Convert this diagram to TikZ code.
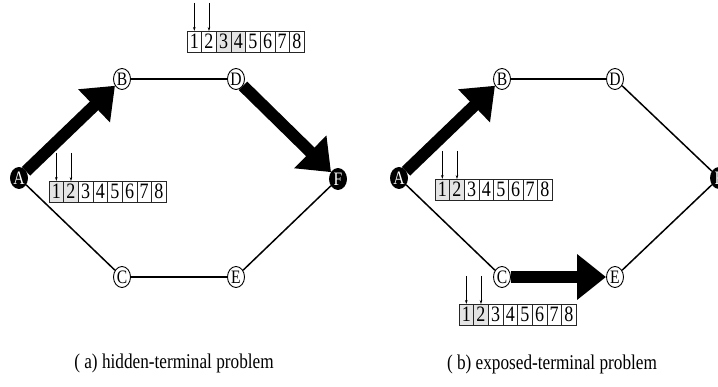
\documentclass[tikz,border=0pt]{standalone}
\usepackage{fontspec}
\setmainfont{Liberation Serif}[FakeStretch=0.82]
\usetikzlibrary{arrows.meta,shapes.geometric}
\definecolor{cellgray}{HTML}{E4E4E4}
\tikzset{
  station/.style={ellipse, draw=black, line width=0.9pt, fill=white, minimum width=17pt, minimum height=21pt, inner sep=0pt, font=\fontsize{19}{19}\selectfont},
  blackstation/.style={station, fill=black, text=white},
  link/.style={line width=1.5pt},
  bigarrow/.style={line width=12pt, -{Triangle[length=29pt,width=44pt]}},
  cellbox/.style={draw=black!85, line width=0.8pt, minimum width=14.65pt, minimum height=21pt, inner sep=0pt, outer sep=0pt, font=\fontsize{22}{22}\selectfont},
  tick/.style={line width=0.5pt, -{Stealth[length=4pt,width=2.5pt]}},
  caption/.style={font=\fontsize{21}{21}\selectfont}
}
\newcommand{\cellrow}[4]{%
  \foreach \f [count=\i] in {#4} {
    \node[cellbox, fill=\f] (#1\i) at ({#2+(\i-0.5)*14.65}, {#3+10.5}) {\i};
  }
  \coordinate (#1s1) at ({#2+0.5*14.65}, {#3-28});
  \coordinate (#1s2) at ({#2+1.5*14.65}, {#3-28});
  \draw[tick] (#1s1) -- (#11.north);
  \draw[tick] (#1s2) -- (#12.north);
}
\begin{document}
\begin{tikzpicture}[x=1pt, y=-1pt]
\useasboundingbox (0,0) rectangle (718,387);
% left panel
\node[blackstation] (lA) at (19,178) {A};
\node[station] (lB) at (122,79) {B};
\node[station] (lD) at (236,79) {D};
\node[blackstation] (lF) at (338,179) {F};
\node[station] (lC) at (122,277) {C};
\node[station] (lE) at (236,277) {E};
\draw[link] (lB) -- (lD);
\draw[link] (lA) -- (lC);
\draw[link] (lC) -- (lE);
\draw[link] (lE) -- (lF);
\draw[bigarrow] (lA) -- (lB);
\draw[bigarrow] (lD) -- (lF);
\cellrow{lt}{187}{31}{white,white,cellgray,cellgray,white,white,white,white}
\cellrow{lm}{49}{181}{cellgray,cellgray,white,white,white,white,white,white}
\node[caption] (capa) at (174,363) {( a) hidden-terminal problem};
% right panel
\node[blackstation] (rA) at (399,178) {A};
\node[station] (rB) at (502,79) {B};
\node[station] (rD) at (615,79) {D};
\node[blackstation] (rF) at (719,178) {F};
\node[station] (rC) at (502,277) {C};
\node[station] (rE) at (615,277) {E};
\draw[link] (rB) -- (rD);
\draw[link] (rA) -- (rC);
\draw[link] (rD) -- (rF);
\draw[link] (rE) -- (rF);
\draw[bigarrow] (rA) -- (rB);
\draw[bigarrow] (rC) -- (rE);
\cellrow{rm}{435}{179}{cellgray,cellgray,white,white,white,white,white,white}
\cellrow{rb}{459}{304}{cellgray,cellgray,white,white,white,white,white,white}
\node[caption] (capb) at (552,364) {( b) exposed-terminal problem};
\end{tikzpicture}
\end{document}
